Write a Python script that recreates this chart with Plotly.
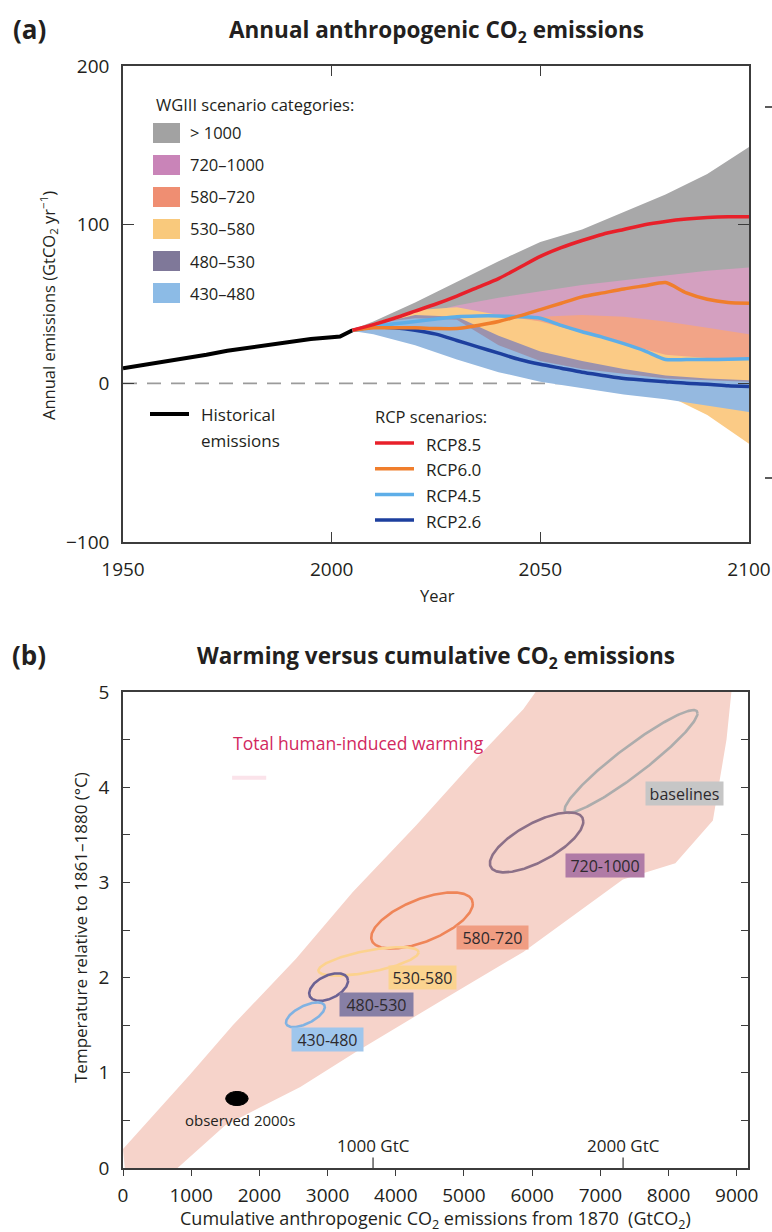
import numpy as np
import plotly.graph_objects as go

W, H = 772, 1232
def px(x): return x / W
def py(y): return 1 - y / H

FONT = "Open Sans"
TXT = "#231f20"

# ---------------- Panel (a) data ----------------
hist_years = [1950, 1955, 1960, 1965, 1970, 1975, 1980, 1985, 1990, 1995, 2000, 2002, 2005]
hist_emis = [9.5, 11.5, 13.5, 15.5, 18, 20.5, 22.5, 24.5, 26.5, 28, 29, 29.5, 33.5]

rcp_years = [2005, 2010, 2015, 2020, 2025, 2030, 2035, 2040, 2045, 2050,
             2055, 2060, 2065, 2070, 2075, 2080, 2085, 2090, 2095, 2100]
rcp85 = [33.5, 37, 41, 45.5, 50, 55, 60.5, 66, 73, 80, 85.5, 90, 94, 97, 100, 102, 103.5, 104.5, 105, 105]
rcp60 = [33.5, 35, 35, 35, 34.5, 34.5, 36.5, 39, 42.5, 46.5, 50.5, 54.5, 57, 59.5, 61.5, 63.5, 57, 53, 51, 50.5]
rcp45 = [33.5, 36, 37.5, 39, 40.5, 42, 42.5, 42.5, 42, 41, 36.5, 32.5, 29, 25, 20.5, 15, 15, 15, 15.2, 15.5]
rcp26 = [33.5, 35.5, 35, 33.5, 31, 27, 23, 19, 15, 12, 9.5, 7, 5, 3, 2, 1, 0, -0.5, -1.5, -2]
rcp_names = ["RCP8.5", "RCP6.0", "RCP4.5", "RCP2.6"]
rcp_series = [rcp85, rcp60, rcp45, rcp26]
rcp_colors = ["#e8202a", "#f07e2c", "#5eaee8", "#1d3f9e"]

band_years = [2005, 2010, 2020, 2030, 2040, 2050, 2060, 2070, 2080, 2090, 2100]
cat_names = ["> 1000", "720–1000", "580–720", "530–580", "480–530", "430–480"]
cat_colors = ["#a8a8a9", "#d4a0c0", "#f2a487", "#fbcb86", "#9c92ad", "#95b9e0"]
cat_swatch = ["#a2a2a2", "#c984b8", "#ef8e72", "#f9c97c", "#7f7899", "#8cbbe6"]
band_upper = [
    [34, 39, 51, 64, 77, 89, 97, 108, 119, 132, 149],
    [34, 37, 43, 49, 54, 58, 62, 65, 68, 71, 73],
    [34, 36, 40, 42, 40, 42, 43, 42, 39, 35, 31],
    [34, 38, 46, 48, 43, 39, 32, 25, 18, 16, 15],
    [34, 37, 43, 42, 30, 20, 14, 9, 5, 3, 2],
    [34, 38, 41, 40, 24, 14, 9, 6, 3, 2, 1],
]
band_lower = [
    [33, 35, 40, 44, 48, 53, 58, 62, 65, 68, 70],
    [33, 34, 35, 34, 32, 30, 28, 27, 27, 27, 27],
    [33, 33, 32, 30, 27, 23, 19, 16, 14, 13, 12],
    [33, 32, 28, 22, 15, 8, 2, -3, -7, -20, -38],
    [33, 32, 28, 20, 12, 6, 1, -3, -5, -7, -9],
    [33, 31, 24, 15, 7, 1, -3, -7, -10, -14, -18],
]

# ---------------- Panel (b) data ----------------
plume_left_x = [60, 0, 980, 1610, 2540, 3370, 4300, 5180, 5870, 6250]
plume_left_y = [-0.25, 0.2, 0.98, 1.5, 2.2, 2.9, 3.6, 4.3, 4.82, 5.2]
plume_right_x = [350, 800, 1500, 2600, 3420, 4880, 5870, 7330, 8100, 8650, 8850, 8950]
plume_right_y = [-0.25, 0.0, 0.45, 0.85, 1.22, 1.85, 2.27, 3.03, 3.2, 3.65, 4.5, 5.2]

ell_names = ["baselines", "720-1000", "580-720", "530-580", "480-530", "430-480"]
ell_cx = [7450, 6065, 4385, 3600, 3015, 2675]
ell_cy = [4.27, 3.42, 2.60, 2.17, 1.90, 1.61]
ell_ax = [975, 685, 745, 735, 285, 285]
ell_ay = [0.54, 0.315, 0.295, 0.15, 0.145, 0.13]
ell_phi = [0.35, 0.8, 0.93, 0.88, 1.1, 0.9]
ell_colors = ["#acacac", "#8c7088", "#ef8558", "#fcd28e", "#6b6193", "#80b2e2"]
lab_x = [8230, 7067, 5418, 4391, 3724, 2999]
lab_y = [3.93, 3.18, 2.42, 2.00, 1.72, 1.35]
lab_bg = ["#c6c6c6", "#b07ba6", "#f09d82", "#fbd38f", "#877fa5", "#9fc6ec"]
lab_w = [75, 76, 69, 65, 71, 69]

obs_x, obs_y = 1670, 0.73
gtc_marks = [1000, 2000]
gtc_to_co2 = 44.0 / 12.0

fig = go.Figure()

# zero dashed line (panel a), drawn under the bands
fig.add_trace(go.Scatter(x=[hist_years[0], rcp_years[-1]], y=[0, 0], mode="lines",
                         line=dict(color="#9b9b9b", width=1.6, dash="14px,10px"),
                         xaxis="x", yaxis="y", hoverinfo="skip", showlegend=False))

for up, lo, col in zip(band_upper, band_lower, cat_colors):
    fig.add_trace(go.Scatter(x=band_years + band_years[::-1], y=up + lo[::-1],
                             fill="toself", fillcolor=col, mode="lines",
                             line=dict(width=0, color=col), xaxis="x", yaxis="y",
                             hoverinfo="skip", showlegend=False))

fig.add_trace(go.Scatter(x=hist_years, y=hist_emis, mode="lines",
                         line=dict(color="black", width=4), xaxis="x", yaxis="y",
                         showlegend=False))
for s, col in zip(rcp_series[::-1], rcp_colors[::-1]):
    fig.add_trace(go.Scatter(x=rcp_years, y=s, mode="lines",
                             line=dict(color=col, width=3.5, shape="spline", smoothing=0.6),
                             xaxis="x", yaxis="y", showlegend=False))

# ---------------- Panel (b) traces ----------------
fig.add_trace(go.Scatter(x=plume_left_x + plume_right_x[::-1], y=plume_left_y + plume_right_y[::-1],
                         fill="toself", fillcolor="#f6d3ca", mode="lines",
                         line=dict(width=0, color="#f6d3ca"), xaxis="x2", yaxis="y2",
                         hoverinfo="skip", showlegend=False))
t = np.linspace(0, 2 * np.pi, 240)
for cx, cy, ax, ay, ph, col in zip(ell_cx, ell_cy, ell_ax, ell_ay, ell_phi, ell_colors):
    fig.add_trace(go.Scatter(x=cx + ax * np.cos(t), y=cy + ay * np.cos(t - ph), mode="lines",
                             line=dict(color=col, width=2.6), xaxis="x2", yaxis="y2",
                             hoverinfo="skip", showlegend=False))
# observed dot
fig.add_trace(go.Scatter(x=obs_x + 165 * np.cos(t), y=obs_y + 0.075 * np.sin(t), fill="toself",
                         fillcolor="black", mode="lines", line=dict(color="black", width=1),
                         xaxis="x2", yaxis="y2", showlegend=False))
# GtC marks
for g in gtc_marks:
    fig.add_trace(go.Scatter(x=[g * gtc_to_co2, g * gtc_to_co2], y=[0, 0.11], mode="lines",
                             line=dict(color="#444", width=1.3), xaxis="x2", yaxis="y2",
                             hoverinfo="skip", showlegend=False))
# faint legend stroke under plume label
fig.add_trace(go.Scatter(x=[1600, 2100], y=[4.1, 4.1], mode="lines",
                         line=dict(color="#fbe3ea", width=4), xaxis="x2", yaxis="y2",
                         hoverinfo="skip", showlegend=False))

ann = []
def A(text, x, y, size=16, color=TXT, xanchor="center", **kw):
    ann.append(dict(text=text, x=px(x), y=py(y), xref="paper", yref="paper", showarrow=False,
                    xanchor=xanchor, yanchor="middle", font=dict(family=FONT, size=size, color=color), **kw))

A("<b>(a)</b>", 29, 29, size=26)
A("<b>Annual anthropogenic CO<sub>2</sub> emissions</b>", 436, 31, size=22.5)
A("<b>(b)</b>", 29, 655, size=26)
A("<b>Warming versus cumulative CO<sub>2</sub> emissions</b>", 436, 657, size=22.5)
A("Annual emissions (GtCO<sub>2</sub> yr<sup>−1</sup>)", 48, 306, size=16.5, textangle=-90)
A("Year", 437, 595, size=16.5)
A("Temperature relative to 1861–1880 (°C)", 80, 928, size=17, textangle=-90)
A("Cumulative anthropogenic CO<sub>2</sub> emissions from 1870  (GtCO<sub>2</sub>)", 435, 1219, size=18)

# panel a legend
A("WGIII scenario categories:", 154, 105, size=16.5, xanchor="left")
shapes = []
for i, (name, col) in enumerate(zip(cat_names, cat_swatch)):
    yc = 133 + 32 * i
    shapes.append(dict(type="rect", xref="paper", yref="paper", x0=px(153), x1=px(180),
                       y0=py(yc + 10), y1=py(yc - 10), fillcolor=col, line=dict(width=0)))
    A(name, 188, yc, size=16.5, xanchor="left")

shapes.append(dict(type="line", xref="paper", yref="paper", x0=px(150), x1=px(189),
                   y0=py(414), y1=py(414), line=dict(color="black", width=4)))
A("Historical", 199, 414, size=17, xanchor="left")
A("emissions", 199, 441, size=17, xanchor="left")
A("RCP scenarios:", 373, 416, size=16.5, xanchor="left")
for i, (name, col) in enumerate(zip(rcp_names, rcp_colors)):
    yc = 443 + 25.7 * i
    shapes.append(dict(type="line", xref="paper", yref="paper", x0=px(375), x1=px(414),
                       y0=py(yc), y1=py(yc), line=dict(color=col, width=3.5)))
    A(name, 424, yc + 1, size=17, xanchor="left")

# stray tick marks of the neighbouring panel at the right edge
for yy in [107, 478]:
    shapes.append(dict(type="line", xref="paper", yref="paper", x0=px(765), x1=px(772),
                       y0=py(yy), y1=py(yy), line=dict(color="#333", width=1.6)))

# panel b texts
A("Total human-induced warming", 231, 743, size=17.5, color="#d2285e", xanchor="left")
for nm, lx, ly, bg, wd in zip(ell_names, lab_x, lab_y, lab_bg, lab_w):
    ann.append(dict(text=nm, x=lx, y=ly, xref="x2", yref="y2", showarrow=False,
                    xanchor="center", yanchor="middle", width=wd, height=21,
                    font=dict(family=FONT, size=16, color="#2e2a2e"), bgcolor=bg, borderpad=1))
A("observed 2000s", 240, 1120, size=15)
for g in gtc_marks:
    ann.append(dict(text=f"{g} GtC", x=g * gtc_to_co2, y=py(1145), xref="x2", yref="paper",
                    showarrow=False, xanchor="center", yanchor="middle",
                    font=dict(family=FONT, size=17, color=TXT)))

axcol = "#3c3c3c"
common = dict(showgrid=False, zeroline=False, showline=True, linecolor=axcol, linewidth=1.6,
              tickcolor=axcol, tickwidth=1.4, automargin=False,
              tickfont=dict(family=FONT, size=19, color=TXT))

fig.update_layout(
    template="none",
    width=W, height=H, margin=dict(l=0, r=0, t=0, b=0, pad=0), autosize=False,
    paper_bgcolor="white", plot_bgcolor="rgba(0,0,0,0)", showlegend=False,
    xaxis=dict(domain=[px(123), px(749)], range=[1950, 2100], anchor="y",
               tickvals=[1950, 2000, 2050, 2100], ticks="inside", ticklen=10, mirror="ticks",
               ticklabelstandoff=9, **common),
    yaxis=dict(domain=[py(542), py(66)], range=[-100, 200], anchor="x",
               tickvals=[-100, 0, 100, 200], ticktext=["−100", "0", "100", "200"],
               ticks="inside", ticklen=11, mirror="ticks", ticklabelstandoff=8, **common),
    xaxis2=dict(domain=[px(123), px(748)], range=[0, 9165], anchor="y2",
                tickvals=list(range(0, 9001, 1000)), ticks="outside", ticklen=6, mirror=True,
                ticklabelstandoff=3, **common),
    yaxis2=dict(domain=[py(1168), py(692)], range=[0, 5], anchor="x2",
                tickvals=[0, 1, 2, 3, 4, 5], ticks="inside", ticklen=7, mirror="ticks",
                minor=dict(dtick=0.5, ticks="inside", ticklen=7, tickcolor=axcol, tickwidth=1.4,
                           showgrid=False),
                ticklabelstandoff=8, **common),
    annotations=ann, shapes=shapes,
)

fig.write_html("out.html")
